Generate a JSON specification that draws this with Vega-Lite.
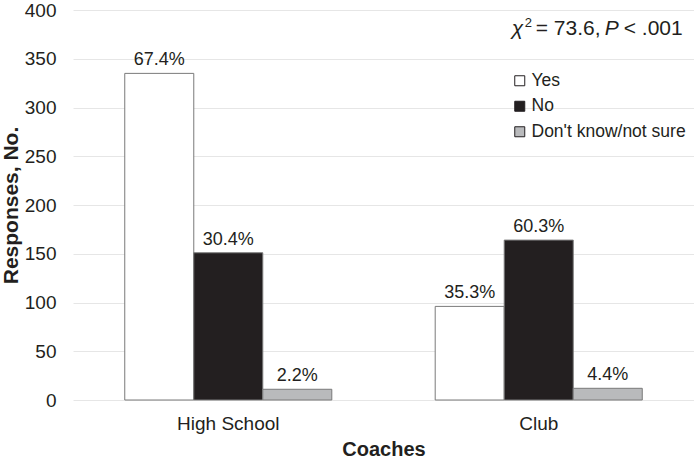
{
  "$schema": "https://vega.github.io/schema/vega-lite/v6.json",
  "width": 621,
  "height": 390,
  "autosize": {"type": "none"},
  "padding": {"left": 73, "top": 10, "right": 0, "bottom": 59},
  "background": "white",
  "config": {
    "font": "Liberation Sans",
    "view": {"stroke": null},
    "axis": {"labelColor": "#231f20", "titleColor": "#231f20", "labelFont": "Liberation Sans", "titleFont": "Liberation Sans"}
  },
  "data": {
    "values": [
      {"coach": "High School", "resp": "Yes", "n": 335, "pct": "67.4%"},
      {"coach": "High School", "resp": "No", "n": 151, "pct": "30.4%"},
      {"coach": "High School", "resp": "Don't know/not sure", "n": 11, "pct": "2.2%"},
      {"coach": "Club", "resp": "Yes", "n": 96, "pct": "35.3%"},
      {"coach": "Club", "resp": "No", "n": 164, "pct": "60.3%"},
      {"coach": "Club", "resp": "Don't know/not sure", "n": 12, "pct": "4.4%"}
    ]
  },
  "layer": [
    {
      "mark": {"type": "bar", "stroke": "#7a7a7a", "strokeWidth": 1},
      "encoding": {
        "x": {
          "field": "coach", "type": "nominal", "sort": ["High School", "Club"],
          "scale": {"paddingInner": 0.333, "paddingOuter": 0.1667},
          "axis": {"title": "Coaches", "labelAngle": 0, "labelFontSize": 19, "titleFontSize": 20, "titleFontWeight": "bold", "ticks": false, "domain": false, "labelPadding": 14, "titlePadding": 6}
        },
        "y": {
          "field": "n", "type": "quantitative",
          "scale": {"domain": [0, 400]},
          "axis": {"title": "Responses, No.", "values": [0, 50, 100, 150, 200, 250, 300, 350, 400], "labelFontSize": 19, "titleFontSize": 21, "titleFontWeight": "bold", "ticks": false, "domain": false, "gridColor": "#e6e6e6", "labelPadding": 17, "titlePadding": 3}
        },
        "xOffset": {"field": "resp", "type": "nominal", "sort": ["Yes", "No", "Don't know/not sure"], "scale": {"paddingInner": 0, "paddingOuter": 0}},
        "color": {
          "field": "resp", "type": "nominal",
          "scale": {"domain": ["Yes", "No", "Don't know/not sure"], "range": ["#ffffff", "#231f20", "#b9babc"]},
          "legend": {"title": null, "orient": "none", "legendX": 438, "legendY": 62, "symbolType": "square", "symbolSize": 100, "symbolStrokeColor": "#231f20", "symbolStrokeWidth": 1, "labelFontSize": 17.5, "labelColor": "#231f20", "labelOffset": 3, "rowPadding": 6.5, "padding": 0, "labelFont": "Liberation Sans"}
        }
      }
    },
    {
      "mark": {"type": "text", "baseline": "alphabetic", "dy": -8, "fontSize": 18, "color": "#231f20"},
      "encoding": {
        "x": {"field": "coach", "type": "nominal", "sort": ["High School", "Club"]},
        "y": {"field": "n", "type": "quantitative"},
        "xOffset": {"field": "resp", "type": "nominal", "sort": ["Yes", "No", "Don't know/not sure"], "scale": {"paddingInner": 0, "paddingOuter": 0}},
        "text": {"field": "pct", "type": "nominal"}
      }
    },
    {
      "data": {"values": [{"t": "χ"}]},
      "mark": {"type": "text", "align": "left", "baseline": "alphabetic", "fontStyle": "italic", "fontSize": 21, "dx": -27, "color": "#231f20"},
      "encoding": {"x": {"datum": "Club", "type": "nominal"}, "y": {"datum": 374.5, "type": "quantitative"}, "text": {"field": "t", "type": "nominal"}}
    },
    {
      "data": {"values": [{"t": "2"}]},
      "mark": {"type": "text", "align": "left", "baseline": "alphabetic", "fontSize": 13, "dx": -14, "dy": -8, "color": "#231f20"},
      "encoding": {"x": {"datum": "Club", "type": "nominal"}, "y": {"datum": 374.5, "type": "quantitative"}, "text": {"field": "t", "type": "nominal"}}
    },
    {
      "data": {"values": [{"t": "= 73.6,"}]},
      "mark": {"type": "text", "align": "left", "baseline": "alphabetic", "fontSize": 21, "dx": -3, "color": "#231f20"},
      "encoding": {"x": {"datum": "Club", "type": "nominal"}, "y": {"datum": 374.5, "type": "quantitative"}, "text": {"field": "t", "type": "nominal"}}
    },
    {
      "data": {"values": [{"t": "P"}]},
      "mark": {"type": "text", "align": "left", "baseline": "alphabetic", "fontStyle": "italic", "fontSize": 21, "dx": 66, "color": "#231f20"},
      "encoding": {"x": {"datum": "Club", "type": "nominal"}, "y": {"datum": 374.5, "type": "quantitative"}, "text": {"field": "t", "type": "nominal"}}
    },
    {
      "data": {"values": [{"t": "< .001"}]},
      "mark": {"type": "text", "align": "left", "baseline": "alphabetic", "fontSize": 21, "dx": 85, "color": "#231f20"},
      "encoding": {"x": {"datum": "Club", "type": "nominal"}, "y": {"datum": 374.5, "type": "quantitative"}, "text": {"field": "t", "type": "nominal"}}
    }
  ]
}
